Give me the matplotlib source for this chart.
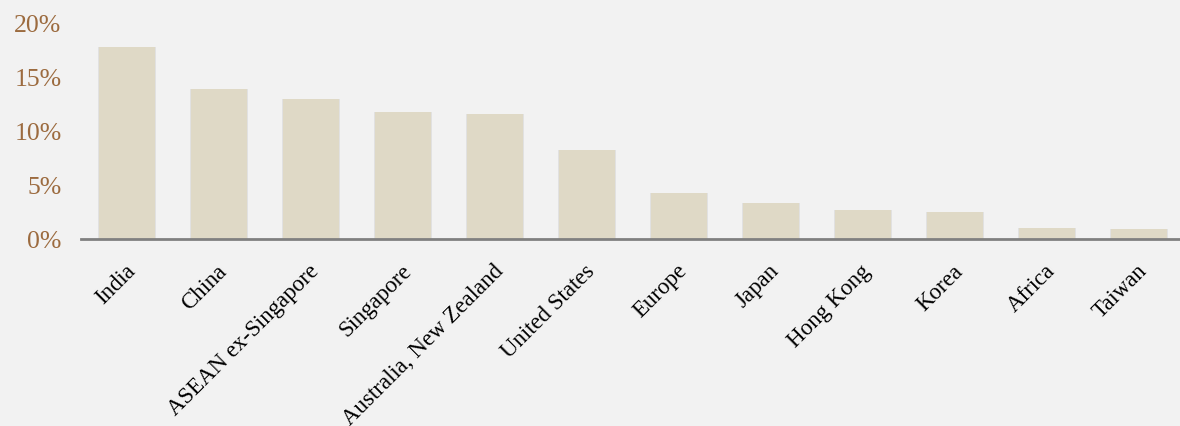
import matplotlib.pyplot as plt
from matplotlib.ticker import FuncFormatter
from matplotlib.transforms import ScaledTranslation

regions = ["India", "China", "ASEAN ex-Singapore", "Singapore",
           "Australia, New Zealand", "United States", "Europe", "Japan",
           "Hong Kong", "Korea", "Africa", "Taiwan"]
share = [17.8, 13.9, 13.0, 11.8, 11.6, 8.2, 4.3, 3.3, 2.7, 2.5, 1.0, 0.9]

bg = "#F2F2F2"
bar_color = "#DFD9C6"
label_brown = "#9C6B3F"

fig = plt.figure(figsize=(11.8, 4.26), dpi=100, facecolor=bg)
ax = fig.add_axes([81 / 1180, (426 - 239) / 426, 1104 / 1180, 216 / 426])
ax.set_facecolor(bg)

x = list(range(len(regions)))
# soft shadow behind each bar
ax.bar(x, share, width=0.64, color="#D6D6D6", alpha=0.6, zorder=1)
ax.bar(x, share, width=0.6, color=bar_color, zorder=2)

ax.set_xlim(-0.5, len(regions) - 0.5)
ax.set_ylim(0, 20)
ax.set_yticks([0, 5, 10, 15, 20])
ax.yaxis.set_major_formatter(FuncFormatter(lambda v, p: f"{v:.0f}%"))

for s in ["top", "right", "left"]:
    ax.spines[s].set_visible(False)
ax.spines["bottom"].set_color("#808080")
ax.spines["bottom"].set_linewidth(2)
ax.spines["bottom"].set_zorder(3)

ax.tick_params(axis="y", length=0, pad=14, labelsize=18.5, labelcolor=label_brown)
ax.tick_params(axis="x", length=0, pad=21)
for lab in ax.get_yticklabels():
    lab.set_fontfamily("Liberation Serif")

ax.set_xticks(x)
ax.set_xticklabels(regions, rotation=45, ha="right", va="center",
                   rotation_mode="anchor", fontsize=16.5,
                   fontfamily="Liberation Serif", color="black")
nudge = ScaledTranslation(5 / 100, 0, fig.dpi_scale_trans)
for lab in ax.get_xticklabels():
    lab.set_transform(lab.get_transform() + nudge)

fig.savefig("out.png", dpi=100, facecolor=bg)
